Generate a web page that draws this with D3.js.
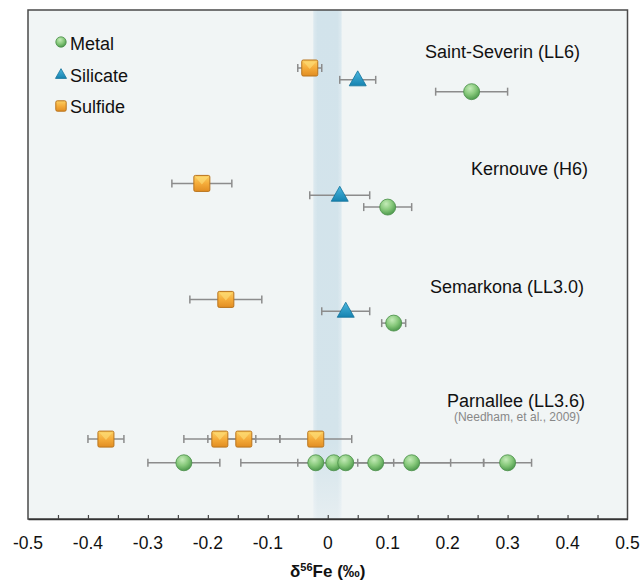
<!DOCTYPE html>
<html><head><meta charset="utf-8">
<script src="https://cdn.jsdelivr.net/npm/d3@7/dist/d3.min.js"></script>
<style>body{margin:0;background:#fff;} text{font-family:"Liberation Sans",Arial,Helvetica,sans-serif;}</style>
</head><body>
<script>
// ---- data ----
const groups = ["Saint-Severin (LL6)", "Kernouve (H6)", "Semarkona (LL3.0)", "Parnallee (LL3.6)"];
const citation = "(Needham, et al., 2009)";
const types = ["Metal", "Silicate", "Sulfide"];
// [group index, value, error]
const metalVals = [[0,0.24,0.06],[1,0.10,0.04],[2,0.11,0.02],
  [3,-0.24,0.06],[3,-0.02,0.03],[3,0.01,0.01],[3,0.03,0.175],[3,0.08,0.03],[3,0.14,0.12],[3,0.30,0.04]];
const silicateVals = [[0,0.05,0.03],[1,0.02,0.05],[2,0.03,0.04]];
const sulfideVals = [[0,-0.03,0.02],[1,-0.21,0.05],[2,-0.17,0.06],
  [3,-0.37,0.03],[3,-0.18,0.06],[3,-0.14,0.06],[3,-0.02,0.06]];
const xTicks = [-0.5,-0.4,-0.3,-0.2,-0.1,0,0.1,0.2,0.3,0.4,0.5];
const bandRange = [-0.024, 0.023];

(function(){
// ---- layout ----
const W = 641, H = 582;
const pLeft = 28, pRight = 627.5, pTop = 10, pBottom = 519;
const groupRow = [4.9, 14.65, 24.45, 36.25];   // row units
const typeOffset = {Sulfide:0, Silicate:1, Metal:2};
const labelRow = [4.05, 13.9, 23.9, 33.5];
const labelEnd = [580, 588, 584, 585];
const citeRow = 34.75;

const svg = d3.select("body").append("svg").attr("width", W).attr("height", H);
const x = d3.scaleLinear().domain([-0.5, 0.5]).range([pLeft, pRight]);
const y = d3.scaleLinear().domain([0, 43]).range([pTop, pBottom]);

const defs = svg.append("defs");
const bandG = defs.append("linearGradient").attr("id","band").attr("x1",0).attr("x2",0).attr("y1",0).attr("y2",1);
bandG.append("stop").attr("offset",0).attr("stop-color","#d2e3eb");
bandG.append("stop").attr("offset",0.85).attr("stop-color","#d4e4eb");
bandG.append("stop").attr("offset",1).attr("stop-color","#e6eef1");
const bandH = defs.append("linearGradient").attr("id","bandEdge").attr("x1",0).attr("x2",1);
bandH.append("stop").attr("offset",0).attr("stop-color","#fff").attr("stop-opacity",0.25);
bandH.append("stop").attr("offset",0.15).attr("stop-color","#fff").attr("stop-opacity",0);
bandH.append("stop").attr("offset",0.85).attr("stop-color","#fff").attr("stop-opacity",0);
bandH.append("stop").attr("offset",1).attr("stop-color","#fff").attr("stop-opacity",0.25);

const gGreen = defs.append("radialGradient").attr("id","green").attr("cx","40%").attr("cy","30%").attr("r","70%");
gGreen.append("stop").attr("offset",0).attr("stop-color","#c4ebb8");
gGreen.append("stop").attr("offset",0.55).attr("stop-color","#86c87a");
gGreen.append("stop").attr("offset",1).attr("stop-color","#4f9a4e");
const gBlue = defs.append("linearGradient").attr("id","blue").attr("x1",0).attr("x2",0).attr("y1",0).attr("y2",1);
gBlue.append("stop").attr("offset",0).attr("stop-color","#4bb7df");
gBlue.append("stop").attr("offset",1).attr("stop-color","#1683b0");
const gOr = defs.append("linearGradient").attr("id","orange").attr("x1",0).attr("x2",0).attr("y1",0).attr("y2",1);
gOr.append("stop").attr("offset",0).attr("stop-color","#fcd063");
gOr.append("stop").attr("offset",0.5).attr("stop-color","#f5ac3a");
gOr.append("stop").attr("offset",1).attr("stop-color","#e18d22");

// plot background
svg.append("rect").attr("x",pLeft).attr("y",pTop).attr("width",pRight-pLeft).attr("height",pBottom-pTop).attr("fill","#f1f5f5");
svg.append("rect").attr("x",x(bandRange[0])).attr("y",pTop).attr("width",x(bandRange[1])-x(bandRange[0])).attr("height",pBottom-pTop).attr("fill","url(#band)");
svg.append("rect").attr("x",x(bandRange[0])).attr("y",pTop).attr("width",x(bandRange[1])-x(bandRange[0])).attr("height",pBottom-pTop).attr("fill","url(#bandEdge)");
svg.append("rect").attr("x",pLeft).attr("y",pTop).attr("width",pRight-pLeft).attr("height",pBottom-pTop)
  .attr("fill","none").attr("stroke","#4a4a4a").attr("stroke-width",1.5);

// axis
const minor = d3.range(-0.45, 0.4501, 0.05);
const axis = d3.axisBottom(x).tickValues(minor).tickSizeInner(-4).tickSizeOuter(0).tickFormat("");
const ax = svg.append("g").attr("transform",`translate(0,${pBottom})`).call(axis);
ax.select(".domain").attr("stroke","#333").attr("stroke-width",1.5);
ax.selectAll(".tick line").attr("stroke","#444").attr("stroke-width",1.2);
svg.append("g").selectAll("text").data(xTicks).join("text")
  .attr("x", d=>x(d)).attr("y", 549).attr("text-anchor","middle")
  .attr("font-size",17.5).attr("fill","#111").text(d=>String(+d.toFixed(1)));
const title = svg.append("text").attr("x", x(0)).attr("y",577).attr("text-anchor","middle")
  .attr("font-size",17).attr("font-weight","bold").attr("fill","#111");
title.append("tspan").text("δ");
title.append("tspan").attr("font-size",11).attr("dy",-6).text("56");
title.append("tspan").attr("dy",6).text("Fe (‰)");

// group labels
svg.append("g").selectAll("text").data(groups).join("text")
  .attr("x", (d,i)=>labelEnd[i]).attr("y", (d,i)=>y(labelRow[i])).attr("text-anchor","end")
  .attr("font-size",18).attr("fill","#111").text(d=>d);
svg.append("text").attr("x",580).attr("y",y(citeRow)).attr("text-anchor","end")
  .attr("font-size",12).attr("fill","#888").text(citation);

// points
const pts = [];
metalVals.forEach(d=>pts.push({type:"Metal",g:d[0],v:d[1],e:d[2]}));
silicateVals.forEach(d=>pts.push({type:"Silicate",g:d[0],v:d[1],e:d[2]}));
sulfideVals.forEach(d=>pts.push({type:"Sulfide",g:d[0],v:d[1],e:d[2]}));
const py = d => y(groupRow[d.g] + typeOffset[d.type]);

const eb = svg.append("g").attr("stroke","#8c8c8c").attr("stroke-width",1.5).attr("fill","none");
pts.forEach(d=>{
  const yy = py(d);
  eb.append("line").attr("x1",x(d.v-d.e)).attr("x2",x(d.v+d.e)).attr("y1",yy).attr("y2",yy);
  [d.v-d.e, d.v+d.e].forEach(c=>eb.append("line").attr("x1",x(c)).attr("x2",x(c)).attr("y1",yy-4).attr("y2",yy+4));
});

function drawMarker(g, type, cx, cy, s) {
  if (type==="Metal") {
    g.append("circle").attr("cx",cx).attr("cy",cy).attr("r",8*s).attr("fill","url(#green)")
      .attr("stroke","#4a8f49").attr("stroke-width",0.8);
  } else if (type==="Silicate") {
    const w = 8.5*s, h = 15*s;
    g.append("path").attr("d",`M${cx},${cy-h*0.6}L${cx+w},${cy+h*0.4}L${cx-w},${cy+h*0.4}Z`)
      .attr("fill","url(#blue)").attr("stroke","#13729b").attr("stroke-width",0.8);
  } else {
    const a = 8*s;
    g.append("rect").attr("x",cx-a).attr("y",cy-a).attr("width",2*a).attr("height",2*a).attr("rx",1.5)
      .attr("fill","url(#orange)").attr("stroke","#b9741d").attr("stroke-width",1);
    if (s>0.8) {
      g.append("path").attr("d",`M${cx-a+1.5},${cy-a+1.5}L${cx+a-1.5},${cy-a+1.5}L${cx},${cy+1}Z`)
        .attr("fill","#fde07a").attr("opacity",0.6);
    }
  }
}
const mg = svg.append("g");
pts.forEach(d=>drawMarker(mg, d.type, x(d.v), py(d), 1));

// legend
const leg = svg.append("g");
const legMark = [42, 74.5, 106];
const legBase = [50, 81.7, 113];
types.forEach((t,i)=>{
  drawMarker(leg, t, 61, legMark[i], 0.65);
  leg.append("text").attr("x",70).attr("y",legBase[i]).attr("font-size",18).attr("fill","#111").text(t);
});
})();
</script>
</body></html>
